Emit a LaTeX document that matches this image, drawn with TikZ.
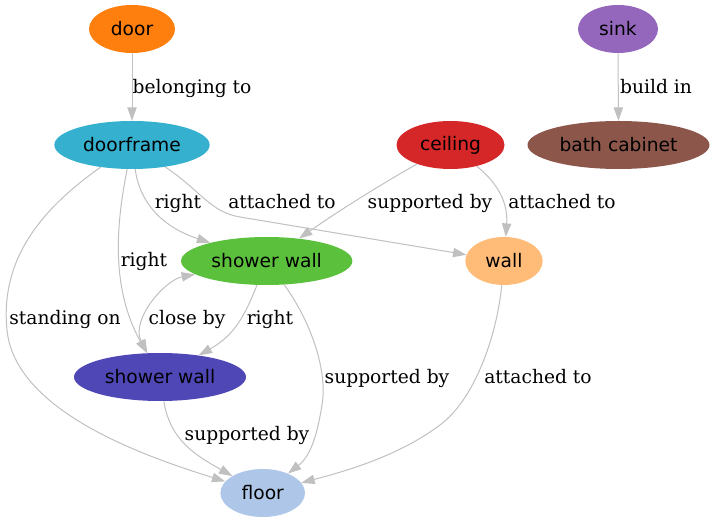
\documentclass[tikz,border=0pt]{standalone}
\usepackage{fontspec}
\setmainfont{DejaVu Serif}
\newfontfamily\nodefont{DejaVu Sans}
\usetikzlibrary{arrows.meta,shapes.geometric}
\definecolor{cdoor}{HTML}{FF7F0E}
\definecolor{csink}{HTML}{9467BD}
\definecolor{cdoorframe}{HTML}{35B0CE}
\definecolor{cceiling}{HTML}{D62728}
\definecolor{ccabinet}{HTML}{8C564B}
\definecolor{cgreen}{HTML}{5BC13D}
\definecolor{cwall}{HTML}{FFBB78}
\definecolor{cblue}{HTML}{4E47B5}
\definecolor{cfloor}{HTML}{AEC7E8}
\definecolor{edgegray}{HTML}{C0C0C0}
\begin{document}
\begin{tikzpicture}[x=0.75pt,y=-0.75pt,
  obj/.style={ellipse, inner sep=0pt, minimum height=36pt, text=black,
    font=\nodefont\fontsize{14}{16}\selectfont},
  rel/.style={draw=edgegray, line width=0.75pt, -{Triangle[length=10pt,width=7pt]}},
  birel/.style={draw=edgegray, line width=0.75pt, {Triangle[length=10pt,width=7pt]}-{Triangle[length=10pt,width=7pt]}},
  lbl/.style={inner sep=0pt, text height=10.5pt, text depth=3pt,
    font=\fontsize{14}{16}\selectfont}]
\useasboundingbox (0,0) rectangle (714,523);
% nodes
\node[obj, fill=cdoor, minimum width=64.5pt] (door) at (132,29) {door};
\node[obj, fill=csink, minimum width=60pt] (sink) at (618,29) {sink};
\node[obj, fill=cdoorframe, minimum width=116.5pt] (doorframe) at (132,145) {doorframe};
\node[obj, fill=cceiling, minimum width=81pt] (ceiling) at (450.5,145) {ceiling};
\node[obj, fill=ccabinet, minimum width=136.5pt] (cabinet) at (618.5,145) {bath cabinet};
\node[obj, fill=cgreen, minimum width=128.5pt] (greenwall) at (266.7,261) {shower wall};
\node[obj, fill=cwall, minimum width=58pt] (wall) at (504,261) {wall};
\node[obj, fill=cblue, minimum width=129pt] (bluewall) at (160,377) {shower wall};
\node[obj, fill=cfloor, minimum width=63.5pt] (floor) at (262.7,493) {floor};
% edges
\draw[rel] (door) -- (doorframe);
\draw[rel] (sink) -- (cabinet);
\draw[rel] (doorframe) .. controls (140,205) and (165,228) .. (greenwall);
\draw[rel] (doorframe) .. controls (200,190) and (210,212) .. (240,217) -- (wall);
\draw[rel] (doorframe) .. controls (115,230) and (112,290) .. (bluewall);
\draw[rel] (doorframe) .. controls (40,210) and (0,260) .. (7,330) .. controls (15,410) and (140,455) .. (floor);
\draw[rel] (ceiling) .. controls (380,185) and (340,210) .. (greenwall);
\draw[rel] (ceiling) .. controls (500,185) and (508,205) .. (wall);
\draw[birel] (greenwall) .. controls (165,280) and (130,320) .. (bluewall);
\draw[rel] (greenwall) .. controls (245,315) and (235,335) .. (bluewall);
\draw[rel] (greenwall) .. controls (310,320) and (328,370) .. (322,405) .. controls (318,430) and (312,455) .. (floor);
\draw[rel] (wall) .. controls (497,335) and (475,399) .. (440,425) .. controls (400,455) and (350,470) .. (floor);
\draw[rel] (bluewall) .. controls (170,440) and (195,455) .. (floor);
% labels
\node[lbl] (l1) at (192,89) {belonging to};
\node[lbl] (l2) at (656,89) {build in};
\node[lbl] (l3) at (178,204) {right};
\node[lbl] (l4) at (282,204) {attached to};
\node[lbl] (l5) at (430,204) {supported by};
\node[lbl] (l6) at (562,204) {attached to};
\node[lbl] (l7) at (144,262) {right};
\node[lbl] (l8) at (65,320) {standing on};
\node[lbl] (l9) at (187,320) {close by};
\node[lbl] (l10) at (270,320) {right};
\node[lbl] (l11) at (387,379) {supported by};
\node[lbl] (l12) at (538,379) {attached to};
\node[lbl] (l13) at (247,436) {supported by};
\end{tikzpicture}
\end{document}
